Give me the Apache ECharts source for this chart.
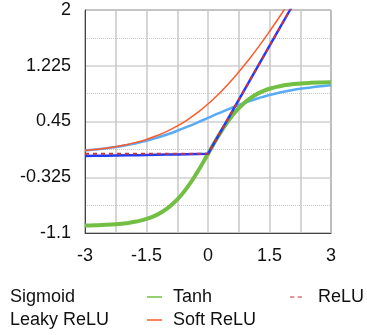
<!DOCTYPE html>
<html>
<head>
<meta charset="utf-8">
<script src="https://cdn.jsdelivr.net/npm/echarts@6/dist/echarts.min.js"></script>
<style>
  html, body { margin: 0; padding: 0; background: #fff; }
  #chart { width: 367px; height: 335px; }
</style>
</head>
<body>
<div id="chart"></div>
<script>
// x positions (step 0.25)
const xs = [-3, -2.75, -2.5, -2.25, -2, -1.75, -1.5, -1.25, -1, -0.75, -0.5, -0.25, 0,
  0.25, 0.5, 0.75, 1, 1.25, 1.5, 1.75, 2, 2.25, 2.5, 2.75, 3]

const sigmoid = [0.047, 0.060, 0.076, 0.095, 0.119, 0.148, 0.182, 0.223, 0.269, 0.321, 0.378, 0.438, 0.5,
  0.562, 0.622, 0.679, 0.731, 0.777, 0.818, 0.852, 0.881, 0.905, 0.924, 0.940, 0.953]
const tanh = [-0.995, -0.992, -0.987, -0.978, -0.964, -0.941, -0.905, -0.848, -0.762, -0.635, -0.462, -0.245, 0,
  0.245, 0.462, 0.635, 0.762, 0.848, 0.905, 0.941, 0.964, 0.978, 0.987, 0.992, 0.995]
const relu = [0, 0, 0, 0, 0, 0, 0, 0, 0, 0, 0, 0, 0,
  0.25, 0.5, 0.75, 1, 1.25, 1.5, 1.75, 2, 2.25, 2.5, 2.75, 3]
const leakyRelu = [-0.03, -0.0275, -0.025, -0.0225, -0.02, -0.0175, -0.015, -0.0125, -0.01, -0.0075, -0.005, -0.0025, 0,
  0.25, 0.5, 0.75, 1, 1.25, 1.5, 1.75, 2, 2.25, 2.5, 2.75, 3]
const softRelu = [0.049, 0.062, 0.079, 0.100, 0.127, 0.160, 0.201, 0.252, 0.313, 0.387, 0.474, 0.576, 0.693,
  0.826, 0.974, 1.137, 1.313, 1.502, 1.701, 1.910, 2.127, 2.350, 2.579, 2.810, 3.049]

const xTicks = [-3, -1.5, 0, 1.5, 3]
const yTicks = [-1.1, -0.325, 0.45, 1.225, 2]

const font = 'Liberation Sans, Arial, sans-serif'
const pairs = ys => xs.map((x, i) => [x, ys[i]])

const chart = echarts.init(document.getElementById('chart'))

const legendText = { fontSize: 18, fontFamily: font, color: '#111', lineHeight: 18 }
// legend icons: plain short line, dashed for ReLU
const lineIcon = 'path://M0,0H10V1H0Z'
const dashIcon = 'path://M0,0H4V1H0Z M7,0H11V1H7Z'

const option = {
  animation: false,
  grid: {
    left: 85, right: 36, top: 10, bottom: 102,
    show: true, borderColor: '#444', borderWidth: 1
  },
  xAxis: {
    type: 'value',
    min: xTicks[0], max: xTicks[xTicks.length - 1], interval: 1.5,
    axisLine: { show: true, onZero: false, lineStyle: { color: '#444' } },
    axisTick: { show: false },
    axisLabel: { fontSize: 18, fontFamily: font, color: '#111', margin: 14 },
    splitLine: { show: true, lineStyle: { color: '#c8c8c8', width: 1.5 } },
    minorTick: { show: false, splitNumber: 2 },
    minorSplitLine: { show: true, lineStyle: { color: '#c8c8c8', width: 1.5 } }
  },
  yAxis: {
    type: 'value',
    min: yTicks[0], max: yTicks[yTicks.length - 1], interval: 0.775,
    axisLine: { show: true, onZero: false, lineStyle: { color: '#444' } },
    axisTick: { show: false },
    axisLabel: { fontSize: 18, fontFamily: font, color: '#111', margin: 14,
      formatter: v => String(parseFloat(v.toFixed(3))) },
    splitLine: { show: true, lineStyle: { color: '#d0d0d0', width: 1.5 } },
    minorTick: { show: false, splitNumber: 2 },
    minorSplitLine: { show: true, lineStyle: { color: '#c8c8c8', type: [1, 1], width: 1 } }
  },
  legend: [
    { left: 5, top: 288, orient: 'vertical', itemGap: 5, itemWidth: 0, itemHeight: 3, padding: 0,
      data: [{ name: 'Sigmoid', icon: 'none' }, { name: 'Leaky ReLU', icon: 'none' }],
      textStyle: legendText },
    { left: 147, top: 288, orient: 'vertical', itemGap: 5, itemWidth: 15, itemHeight: 3, padding: 0,
      data: [{ name: 'Tanh', icon: lineIcon }, { name: 'Soft ReLU', icon: lineIcon }],
      textStyle: Object.assign({ padding: [0, 0, 0, 6] }, legendText) },
    { left: 290, top: 288, orient: 'vertical', itemGap: 5, itemWidth: 12, itemHeight: 3, padding: 0,
      data: [{ name: 'ReLU', icon: dashIcon }],
      textStyle: Object.assign({ padding: [0, 0, 0, 11] }, legendText) }
  ],
  series: [
    { name: 'Sigmoid', type: 'line', data: pairs(sigmoid), smooth: true, symbol: 'none', z: 2,
      lineStyle: { color: '#5aabf7', width: 2.5 }, itemStyle: { color: '#5aabf7' } },
    { name: 'Tanh', type: 'line', data: pairs(tanh), smooth: true, symbol: 'none', z: 3,
      lineStyle: { color: '#72bf44', width: 4 }, itemStyle: { color: '#72bf44' } },
    { name: 'ReLU', type: 'line', data: pairs(relu), symbol: 'none', z: 6,
      lineStyle: { color: '#d2323c', width: 2, type: [4, 4] }, itemStyle: { color: '#d2323c' } },
    { name: 'Leaky ReLU', type: 'line', data: pairs(leakyRelu), symbol: 'none', z: 5,
      lineStyle: { color: '#1e3cff', width: 2.5 }, itemStyle: { color: '#1e3cff' } },
    { name: 'Soft ReLU', type: 'line', data: pairs(softRelu), smooth: true, symbol: 'none', z: 4,
      lineStyle: { color: '#ff5a28', width: 1.5 }, itemStyle: { color: '#ff5a28' } }
  ]
}

chart.setOption(option)
</script>
</body>
</html>
